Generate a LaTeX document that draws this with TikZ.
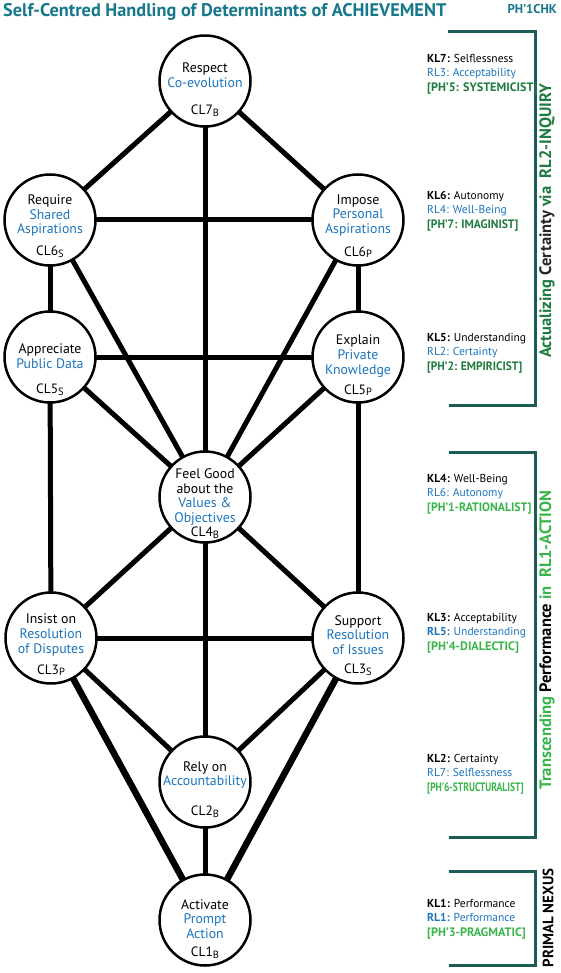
\documentclass[tikz,border=0pt]{standalone}
\usepackage{fontspec}
\setmainfont{PT Sans}
\usetikzlibrary{backgrounds}
\definecolor{titlec}{RGB}{22,120,138}
\definecolor{brack}{RGB}{27,92,86}
\definecolor{bluec}{RGB}{28,117,188}
\definecolor{dgreen}{RGB}{30,122,62}
\definecolor{lgreen}{RGB}{57,181,74}
\newcommand{\subl}[1]{\raisebox{-1.6pt}{\fontsize{10.5}{10.5}\selectfont #1}}
\newcommand{\grnfont}{\fontsize{12.2}{14.5}\selectfont\bfseries}
\begin{document}
\begin{tikzpicture}[x=1pt,y=-1pt,
  cl/.style={circle,draw,line width=2.5pt,fill=white,minimum size=91pt,inner sep=0pt},
  ctext/.style={align=center,font=\fontsize{13.8}{14.8}\selectfont,inner sep=0pt},
  clab/.style={font=\fontsize{13.5}{13.5}\selectfont,inner sep=0pt},
  edge/.style={line width=5pt},
  thickedge/.style={line width=6.5pt},
  brk/.style={draw=brack,line width=3pt},
  side/.style={anchor=west,align=left,inner sep=0pt,font=\fontsize{11.5}{14.5}\selectfont},
  vert/.style={rotate=90,inner sep=0pt,font=\fontsize{16.5}{16.5}\selectfont\bfseries}
]
\useasboundingbox (0,0) rectangle (561,973);
\begin{pgfonlayer}{background}
\fill[white] (0,0) rectangle (561,973);
\end{pgfonlayer}

% title
\node[anchor=base west,inner sep=0pt,text=titlec,font=\fontsize{18.3}{18.3}\selectfont\bfseries] (title) at (3,17) {Self-Centred Handling of Determinants of ACHIEVEMENT};
\node[anchor=base east,inner sep=0pt,text=titlec,font=\fontsize{12.8}{12.8}\selectfont\bfseries] (code) at (557,14) {PH’1CHK};

% circles
\node[cl] (n7) at (205,81) {};
\node[cl] (n6s) at (50,220) {};
\node[cl] (n6p) at (358,220) {};
\node[cl] (n5s) at (50,357) {};
\node[cl] (n5p) at (358,357) {};
\node[cl] (n4) at (205,497) {};
\node[cl] (n3p) at (51,638) {};
\node[cl] (n3s) at (358,638) {};
\node[cl] (n2) at (205,782) {};
\node[cl] (n1) at (205,920) {};

% circle texts
\node[ctext] (t7) at (205,75) {Respect\\\textcolor{bluec}{Co-evolution}};
\node[clab] (l7) at (205,111) {CL7\subl{B}};
\node[ctext] (t6s) at (50,215.5) {Require\\\textcolor{bluec}{Shared}\\\textcolor{bluec}{Aspirations}};
\node[clab] (l6s) at (50,252) {CL6\subl{S}};
\node[ctext] (t6p) at (358,215.5) {Impose\\\textcolor{bluec}{Personal}\\\textcolor{bluec}{Aspirations}};
\node[clab] (l6p) at (358,252) {CL6\subl{P}};
\node[ctext] (t5s) at (50,356.5) {Appreciate\\\textcolor{bluec}{Public Data}};
\node[clab] (l5s) at (50,390) {CL5\subl{S}};
\node[ctext] (t5p) at (358,356) {Explain\\\textcolor{bluec}{Private}\\\textcolor{bluec}{Knowledge}};
\node[clab] (l5p) at (358,390) {CL5\subl{P}};
\node[ctext] (t4) at (205,497) {Feel Good\\about the\\\textcolor{bluec}{Values \&}\\\textcolor{bluec}{Objectives}};
\node[clab] (l4) at (205,533) {CL4\subl{B}};
\node[ctext] (t3p) at (51,635) {Insist on\\\textcolor{bluec}{Resolution}\\\textcolor{bluec}{of Disputes}};
\node[clab] (l3p) at (51,670) {CL3\subl{P}};
\node[ctext] (t3s) at (358,635) {Support\\\textcolor{bluec}{Resolution}\\\textcolor{bluec}{of Issues}};
\node[clab] (l3s) at (358,670) {CL3\subl{S}};
\node[ctext] (t2) at (205,775) {Rely on\\\textcolor{bluec}{Accountability}};
\node[clab] (l2) at (205,812) {CL2\subl{B}};
\node[ctext] (t1) at (205,919) {Activate\\\textcolor{bluec}{Prompt}\\\textcolor{bluec}{Action}};
\node[clab] (l1) at (205,953) {CL1\subl{B}};

% connectors
\begin{pgfonlayer}{background}
\draw[edge] (n7.center) -- (n6s.center);
\draw[edge] (n7.center) -- (n6p.center);
\draw[edge] (n7.center) -- (n4.center);
\draw[edge] (n6s.center) -- (n6p.center);
\draw[edge] (n6s.center) -- (n5s.center);
\draw[edge] (n6p.center) -- (n5p.center);
\draw[edge] (n6s.center) -- (n4.center);
\draw[edge] (n6p.center) -- (n4.center);
\draw[edge] (n5s.center) -- (n5p.center);
\draw[edge] (n5s.center) -- (n4.center);
\draw[edge] (n5p.center) -- (n4.center);
\draw[edge] (n5s.center) -- (n3p.center);
\draw[edge] (n5p.center) -- (n3s.center);
\draw[edge] (n4.center) -- (n3p.center);
\draw[edge] (n4.center) -- (n3s.center);
\draw[edge] (n3p.center) -- (n3s.center);
\draw[edge] (n4.center) -- (n2.center);
\draw[edge] (n3p.center) -- (n2.center);
\draw[edge] (n3s.center) -- (n2.center);
\draw[edge] (n2.center) -- (n1.center);
\draw[thickedge] (n3p.center) -- (n1.center);
\draw[thickedge] (n3s.center) -- (n1.center);
\end{pgfonlayer}

% brackets
\draw[brk] (448,32) -- (535,32) -- (535,405) -- (449,405);
\draw[brk] (449,452) -- (535,452) -- (535,837) -- (449,837);
\draw[brk] (449,871) -- (535,871) -- (535,965) -- (449,965);

% side texts
\node[side] (s7) at (427,74) {\textbf{KL7:} Selflessness\\\textcolor{bluec}{RL3: Acceptability}\\{\grnfont\textcolor{dgreen}{[PH’5: SYSTEMICIST]}}};
\node[side] (s6) at (427,211) {\textbf{KL6:} Autonomy\\\textcolor{bluec}{RL4: Well-Being}\\{\grnfont\textcolor{dgreen}{\scalebox{0.95}[1]{[PH’7: IMAGINIST]}}}};
\node[side] (s5) at (427,353) {\textbf{KL5:} Understanding\\\textcolor{bluec}{RL2: Certainty}\\{\grnfont\textcolor{dgreen}{\scalebox{0.94}[1]{[PH’2: EMPIRICIST]}}}};
\node[side] (s4) at (427,494) {\textbf{KL4:} Well-Being\\\textcolor{bluec}{RL6: Autonomy}\\{\grnfont\textcolor{lgreen}{\scalebox{0.97}[1]{[PH’1-RATIONALIST]}}}};
\node[side] (s3) at (427,633) {\textbf{KL3:} Acceptability\\\textcolor{bluec}{\textbf{RL5:} Understanding}\\{\grnfont\textcolor{lgreen}{[PH’4-DIALECTIC]}}};
\node[side] (s2) at (427,774) {\textbf{KL2:} Certainty\\\textcolor{bluec}{RL7: Selflessness}\\{\grnfont\textcolor{lgreen}{\scalebox{0.78}[1]{[PH’6-STRUCTURALIST]}}}};
\node[side] (s1) at (427,919) {\textbf{KL1:} Performance\\\textcolor{bluec}{\textbf{RL1:} Performance}\\{\grnfont\textcolor{lgreen}{[PH’3-PRAGMATIC]}}};

% vertical texts
\node[vert,text=dgreen] (v1) at (547,221) {Actualizing \textcolor{black!85}{Certainty} via\ \ RL2-INQUIRY};
\node[vert,text=lgreen] (v2) at (547,640) {Transcending \textcolor{black}{Performance} in\ \ RL1-ACTION};
\node[vert,text=black,font=\fontsize{15}{15}\selectfont\bfseries] (v3) at (548,918) {PRIMAL NEXUS};
\end{tikzpicture}
\end{document}
